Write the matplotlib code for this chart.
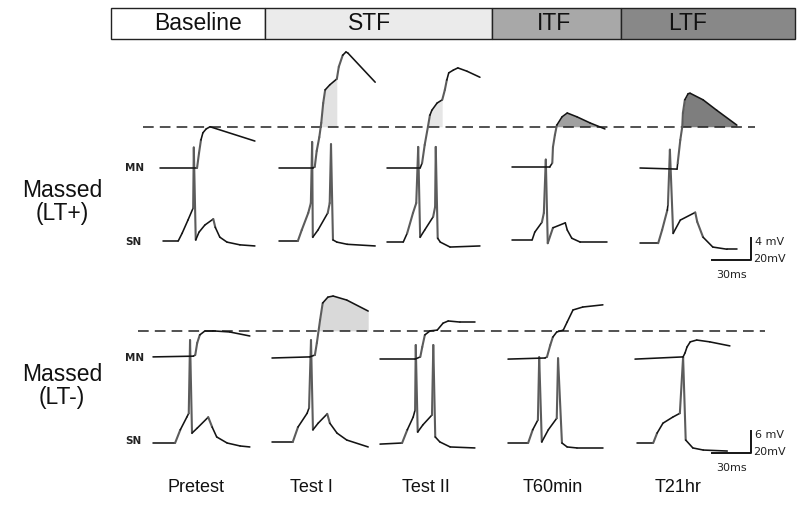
import numpy as np
import matplotlib.pyplot as plt
from matplotlib.patches import Rectangle
from matplotlib.collections import LineCollection
from matplotlib.transforms import Affine2D

plt.rcParams['font.family'] = ['Liberation Sans', 'DejaVu Sans']

# protocol phases (top bar) and test labels
phases = ['Baseline', 'STF', 'ITF', 'LTF']
phase_colors = ['#ffffff', '#ebebeb', '#a8a8a8', '#888888']
tests = ['Pretest', 'Test I', 'Test II', 'T60min', 'T21hr']
row_labels = ['Massed\n(LT+)', 'Massed\n(LT-)']

# traces: time in ms, voltage in mV (rest = 0)
# --- Massed (LT+) ---
top_mn_t = [
    [0, 28.5, 30, 31.5, 33, 35.5, 38.5, 73],
    [0, 26, 27.5, 29, 31, 32.5, 34, 35.5, 39, 44.5, 46, 49, 51.5, 53, 74],
    [0, 25.5, 27, 29, 31.5, 33, 34.5, 38.5, 42.5, 44.5, 46, 47.5, 51, 54.5, 61.5, 71.5],
    [0, 29, 31, 31.5, 33, 34.5, 38.5, 42.5, 50, 60, 71.5],
    [0, 28.5, 29, 31, 32.5, 33, 34.5, 37, 38.5, 48.5, 59, 74.5],
]
top_mn_v = [
    [0, 0, 2.7, 5.1, 6.4, 7.1, 7.5, 4.9],
    [0, 0, 0.2, 3.1, 5.6, 8.2, 11.8, 14.2, 15.1, 16.2, 18.4, 20.5, 21.1, 20.9, 15.6],
    [0, 0, 0.9, 4.2, 7.5, 9.6, 10.5, 11.8, 12.4, 14.2, 16, 17.3, 17.8, 18.2, 17.6, 16.5],
    [0.2, 0.2, 0.9, 3.8, 6, 7.8, 9.3, 10, 9.3, 8.2, 7.1],
    [0, -0.2, 0.9, 5.1, 7.5, 10, 12.4, 13.5, 13.6, 12.4, 10.5, 7.8],
]
top_sn_t = [
    [2.5, 14, 17, 21.5, 25.5, 26, 27.5, 30, 34.5, 41, 42.5, 46, 51.5, 61.5, 73],
    [0, 14.5, 17.5, 22.5, 24.5, 25.5, 26, 30, 37.5, 39, 40, 41.5, 44.5, 52.5, 74],
    [0, 12.5, 15.5, 20, 22.5, 24, 25.5, 29, 35.5, 37, 37.5, 39, 41, 48.5, 71.5],
    [0, 15.5, 17.5, 23, 24.5, 26, 27.5, 31.5, 41, 42.5, 46, 52.5, 73],
    [0, 14, 17, 21, 21.5, 23, 25.5, 31, 42.5, 44, 48.5, 56, 67, 74.5],
]
top_sn_v = [
    [0, 0, 7, 19, 30, 85, 1, 8, 14.5, 20, 12.5, 3.5, -1, -3.5, -4.5],
    [0, 0, 10, 25.5, 34.5, 90, 3.5, 10, 25.5, 34.5, 88, 1, -1, -3, -4.5],
    [-1, -1, 7, 25.5, 34.5, 85.5, 3.5, 10, 22, 31, 85.5, 2.5, -1, -5.5, -4.5],
    [1, 1, 8, 17, 25.5, 74, -2, 12, 16.5, 10, 2.5, -1, -1],
    [-2, -2, 10, 28, 33, 83, 7, 19, 26, 17.5, 3.5, -5.5, -7.5, -7.5],
]
# --- Massed (LT-) ---
bot_mn_t = [
    [0, 31, 32.5, 34, 36, 40, 46, 59, 74.5],
    [0, 29, 33, 34.5, 37, 39, 43, 47, 57.5, 74],
    [0, 27, 31, 32.5, 34.5, 38.5, 44, 48.5, 52.5, 61.5, 73],
    [0, 28.5, 30, 32.5, 34.5, 37.5, 42.5, 45.5, 50, 57.5, 73],
    [0, 37, 38.5, 40, 42.5, 47.5, 57.5, 73],
]
bot_mn_v = [
    [0.3, 0.5, 0.8, 4.1, 6.3, 7.4, 7.4, 7.1, 6],
    [0, 0.3, 0.8, 4.1, 10.4, 15, 16.6, 16.9, 15.8, 12.8],
    [-0.3, -0.3, 0.3, 3, 6.3, 7.4, 7.6, 9.5, 10.1, 9.8, 9.8],
    [-0.3, 0, 0.3, 3.5, 5.7, 7.1, 7.6, 9.8, 13.1, 13.9, 14.5],
    [-0.3, 0.3, 1.4, 3, 4.4, 4.9, 4.4, 3.3],
]
bot_sn_t = [
    [0, 17, 21, 26, 27.5, 28.5, 30, 34, 42.5, 45.5, 49, 57, 67, 74.5],
    [0, 16, 20, 27, 28.5, 30, 31.5, 35.5, 42.5, 44.5, 50, 57.5, 74],
    [0, 17, 21, 25.5, 27, 27.5, 29, 33, 40, 41, 42.5, 46, 54, 73],
    [0, 15.5, 19, 23, 24, 26, 31, 37.5, 38.5, 41.5, 45.5, 53, 73],
    [1.5, 14, 17, 21.5, 29, 34.5, 37, 39, 44.5, 52.5, 71],
]
bot_sn_v = [
    [0, 0, 12, 23.5, 27, 93.5, 9, 13.5, 23.5, 14.5, 5.5, 0, -2.7, -3.6],
    [1, 1, 14.5, 27, 32, 93.5, 12, 18, 26.5, 18, 9, 2.7, -3.6],
    [-1, 0, 12, 23.5, 30, 89, 10, 16.5, 25.5, 89, 5.5, 1, -3.6, -4.5],
    [0, 0, 12, 21, 78, 1, 12, 22.5, 77, 0, -3.6, -4.5, -4.5],
    [0, 0, 9, 18, 23.5, 27, 78, 2.7, -4.5, -6.4, -7.3],
]

# scale bars
bar_ms = 30
bar_mn_mv = [4, 6]
bar_sn_mv = 20

# ---------------- layout ----------------
PX_MS = 1.3
PX_MN = [5.5, 3.667]
PX_SN = 1.1
col_x0 = [[160, 279, 387, 512, 640], [153, 272, 380, 508, 635]]
mn_y0 = [168, 358]
sn_y0 = [241, 443]
dash_x = [(143, 755), (138, 765)]
# shading (colour, end time) for each column, per row
shades = [[None, ('#e2e2e2', 44.5), ('#e6e6e6', 42.5), ('#a0a0a0', None), ('#7e7e7e', None)],
          [None, ('#d9d9d9', None), None, None, None]]

fig = plt.figure(figsize=(8, 5.05), dpi=100)
ax = fig.add_axes([0, 0, 1, 1])
ax.set_xlim(0, 800)
ax.set_ylim(505, 0)
ax.axis('off')


def draw_trace(t, v, sx, sy, tr):
    # steep parts of the scanned traces print grey, the slow parts black
    pts = np.column_stack([t, v])
    segs = np.stack([pts[:-1], pts[1:]], axis=1)
    dx = np.abs(np.diff(t)) * sx
    dy = np.abs(np.diff(v)) * sy
    steep = (dy > 2.5 * dx) & (dy > 8)
    colors = np.where(steep, '#5c5c5c', '#141414')
    widths = np.where(steep, 1.5, 1.15)
    lc = LineCollection(segs, colors=list(colors), linewidths=widths,
                        capstyle='round', joinstyle='round', transform=tr)
    ax.add_collection(lc)


# top phase bar
edges = [111, 265, 492, 621, 795]
text_x = [198, 370, 554, 688]
for i, name in enumerate(phases):
    ax.add_patch(Rectangle((edges[i], 8), edges[i + 1] - edges[i], 31,
                           facecolor=phase_colors[i], edgecolor='#222222', lw=1.0))
    ax.text(text_x[i], 24, name, ha='center', va='center', fontsize=16.5, color='#111111')

all_mn = [(top_mn_t, top_mn_v), (bot_mn_t, bot_mn_v)]
all_sn = [(top_sn_t, top_sn_v), (bot_sn_t, bot_sn_v)]

for r in range(2):
    mts, mvs = all_mn[r]
    sts, svs = all_sn[r]
    level = max(mvs[0])  # pretest EPSP peak
    dash_y = mn_y0[r] - level * PX_MN[r]
    ax.plot(dash_x[r], [dash_y, dash_y], color='#222222', lw=1.1, dashes=(7, 4))
    for c in range(5):
        tr_mn = Affine2D().scale(PX_MS, -PX_MN[r]).translate(col_x0[r][c], mn_y0[r]) + ax.transData
        tr_sn = Affine2D().scale(PX_MS, -PX_SN).translate(col_x0[r][c], sn_y0[r]) + ax.transData
        t = np.array(mts[c], float)
        v = np.array(mvs[c], float)
        sh = shades[r][c]
        if sh is not None:
            tf = np.linspace(t[0], t[-1], 800)
            vf = np.interp(tf, t, v)
            t_end = sh[1] if sh[1] is not None else t[-1]
            ax.fill_between(tf, vf, level, where=(vf >= level) & (tf <= t_end),
                            color=sh[0], lw=0, transform=tr_mn)
        draw_trace(np.array(sts[c], float), np.array(svs[c], float), PX_MS, PX_SN, tr_sn)
        draw_trace(t, v, PX_MS, PX_MN[r], tr_mn)

    # row labels
    ax.text(125, mn_y0[r], 'MN', ha='left', va='center', fontsize=7.5,
            fontweight='bold', family='DejaVu Sans', color='#222222')
    ax.text(125, sn_y0[r] - 3 * r + 1, 'SN', ha='left', va='center', fontsize=7.5,
            fontweight='bold', family='DejaVu Sans', color='#222222')

ax.text(62, 202, row_labels[0], ha='center', va='center', fontsize=16.5,
        linespacing=1.05, color='#111111')
ax.text(62, 386, row_labels[1], ha='center', va='center', fontsize=16.5,
        linespacing=1.05, color='#111111')

# scale bars
corners = [(751, 260), (751, 453)]
for r in range(2):
    cx, cy = corners[r]
    tr = Affine2D().scale(PX_MS, -PX_MN[r]).translate(cx, cy) + ax.transData
    ax.plot([-bar_ms, 0, 0], [0, 0, bar_mn_mv[r]], transform=tr, color='#151515', lw=1.4)
    top = cy - bar_mn_mv[r] * PX_MN[r]
    ax.text(755, top + 4, f'{bar_mn_mv[r]} mV', ha='left', va='center', fontsize=8,
            family='DejaVu Sans', color='#222222')
    ax.text(753, cy - 1, f'{bar_sn_mv}mV', ha='left', va='center', fontsize=8,
            family='DejaVu Sans', color='#222222')
    ax.text(cx - bar_ms * PX_MS / 2, cy + 15, f'{bar_ms}ms', ha='center', va='center',
            fontsize=8, family='DejaVu Sans', color='#222222')

# test labels
test_x = [196, 311, 426, 553, 678]
for x, name in zip(test_x, tests):
    ax.text(x, 487, name, ha='center', va='center', fontsize=13, color='#111111')

fig.savefig('out.png', dpi=100)
